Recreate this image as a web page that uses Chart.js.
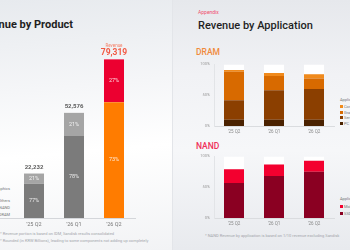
<!DOCTYPE html>
<html>
<head>
<meta charset="utf-8">
<script src="https://cdn.jsdelivr.net/npm/chart.js@4.4.1/dist/chart.umd.min.js"></script>
<style>
  html,body{margin:0;padding:0;}
  body{width:350px;height:250px;overflow:hidden;position:relative;font-family:Roboto,"Noto Sans",sans-serif;}
  #left{position:absolute;left:0;top:0;width:172px;height:250px;
    background:linear-gradient(175deg,#e7eaee 0%,#f5f6f8 35%,#ffffff 60%,#f2f3f5 100%);}
  #divider{position:absolute;left:172px;top:0;width:1px;height:250px;background:#e3e5e9;}
  #right{position:absolute;left:173px;top:0;width:177px;height:250px;
    background:linear-gradient(180deg,#e6e8ec 0%,#f1f2f5 30%,#f6f7f9 60%,#e8eaee 100%);}
  .abs{position:absolute;white-space:nowrap;}
  canvas{position:absolute;}
  .leg{position:absolute;font-size:4px;color:#777;white-space:nowrap;line-height:5px;}
  .leg i{display:inline-block;width:3px;height:3px;margin-right:1px;vertical-align:middle;}
</style>
</head>
<body>
<div id="left"></div>
<div id="divider"></div>
<div id="right"></div>

<div class="abs" style="right:277px;top:18px;font-size:11px;font-weight:700;color:#1f1f1f;">Revenue by Product</div>
<div class="abs" style="left:198px;top:9px;font-size:5px;color:#f0506e;">Appendix</div>
<div class="abs" style="left:198px;top:19px;font-size:11px;font-weight:500;color:#1f1f1f;">Revenue by Application</div>
<div class="abs" style="left:196px;top:47px;font-size:8.5px;font-weight:500;color:#f08a3c;">DRAM</div>
<div class="abs" style="left:196px;top:141px;font-size:8.5px;font-weight:500;color:#f0305a;">NAND</div>

<div class="leg" style="right:340px;top:186px;text-align:right;">Graphics</div>
<div class="leg" style="right:340px;top:198px;text-align:right;">Others</div>
<div class="leg" style="right:340px;top:205px;text-align:right;">NAND</div>
<div class="leg" style="right:340px;top:212px;text-align:right;">DRAM</div>

<div class="leg" style="left:0px;top:231px;color:#a3a6ab;">* Revenue portion is based on IDM, Sandisk results consolidated</div>
<div class="leg" style="left:0px;top:238px;color:#a3a6ab;">* Rounded (in KRW Billions), leading to some components not adding up completely</div>
<div class="leg" style="left:205px;top:233px;color:#a3a6ab;">* NAND Revenue by application is based on 1/10 revenue excluding Sandisk</div>

<div class="leg" style="left:340px;top:97px;">Application</div>
<div class="leg" style="left:340px;top:104px;"><i style="background:#f08a1c"></i>Consumer</div>
<div class="leg" style="left:340px;top:110px;"><i style="background:#d86a00"></i>Graphics</div>
<div class="leg" style="left:340px;top:115px;"><i style="background:#8b3f00"></i>Server</div>
<div class="leg" style="left:340px;top:121px;"><i style="background:#4a2200"></i>PC</div>

<div class="leg" style="left:340px;top:196px;">Application</div>
<div class="leg" style="left:340px;top:204px;"><i style="background:#f3002f"></i>Mobile</div>
<div class="leg" style="left:340px;top:211px;"><i style="background:#8a0022"></i>SSD &amp; others</div>

<canvas id="cLeft" width="172" height="250" style="left:0;top:0;width:172px;height:250px;"></canvas>
<canvas id="cDram" width="150" height="80" style="left:190px;top:58px;width:150px;height:80px;"></canvas>
<canvas id="cNand" width="150" height="80" style="left:190px;top:150px;width:150px;height:80px;"></canvas>

<script>
// ---------- data ----------
const quarters = ["'25 Q2", "'26 Q1", "'26 Q2"];

// Revenue by Product (KRW billions)
const productTotals = [22232, 52576, 79319];
const productLower = [17100, 41000, 57900];
const productUpper = [5132, 11576, 21419];
const productLowerPct = ["77%", "78%", "73%"];
const productUpperPct = ["21%", "21%", "27%"];

// DRAM revenue by application (%), bottom to top
const dramPC = [10, 10, 10];
const dramServer = [32, 48, 50];
const dramGraphics = [46, 23, 17];
const dramConsumer = [3, 5, 7];
const dramRest = [9, 14, 16];

// NAND revenue by application (%), bottom to top
const nandSSD = [57, 68, 75];
const nandMobile = [22, 19, 18];
const nandRest = [21, 13, 7];

const yPctTicks = [0, 50, 100];

// ---------- common ----------
Chart.defaults.font.family = 'Roboto, "Noto Sans", sans-serif';
Chart.defaults.animation = false;
Chart.defaults.responsive = false;
Chart.defaults.plugins.legend.display = false;
Chart.defaults.plugins.tooltip.enabled = false;

const grayDark = '#7b7b7b', grayLight = '#a5a5a5', orange = '#ff7c00', red = '#ec0030';

const productLabels = {
  id: 'productLabels',
  afterDatasetsDraw(chart) {
    const ctx = chart.ctx;
    ctx.save();
    ctx.textAlign = 'center';
    ctx.textBaseline = 'middle';
    const pcts = [productLowerPct, productUpperPct];
    chart.data.datasets.forEach((ds, di) => {
      chart.getDatasetMeta(di).data.forEach((bar, i) => {
        ctx.fillStyle = 'rgba(255,255,255,0.85)';
        ctx.font = '400 5.5px Roboto, "Noto Sans", sans-serif';
        ctx.fillText(pcts[di][i], bar.x, (bar.y + bar.base) / 2);
      });
    });
    const tops = chart.getDatasetMeta(1).data;
    tops.forEach((bar, i) => {
      const txt = productTotals[i].toLocaleString('en-US');
      if (i === tops.length - 1) {
        ctx.fillStyle = '#f25a44';
        ctx.font = '700 8.5px Roboto, "Noto Sans", sans-serif';
        ctx.fillText(txt, bar.x, bar.y - 6);
        ctx.fillStyle = '#f5826a';
        ctx.font = '400 4.5px Roboto, "Noto Sans", sans-serif';
        ctx.fillText('Revenue', bar.x, bar.y - 13.5);
      } else {
        ctx.fillStyle = '#5a5a5a';
        ctx.font = '700 6px Roboto, "Noto Sans", sans-serif';
        ctx.fillText(txt, bar.x, bar.y - 6);
      }
    });
    // baseline
    const y0 = chart.scales.y.getPixelForValue(0);
    ctx.strokeStyle = '#d4d6da';
    ctx.lineWidth = 1;
    ctx.beginPath();
    ctx.moveTo(0, y0 + 0.5);
    ctx.lineTo(chart.chartArea.right + 2, y0 + 0.5);
    ctx.stroke();
    ctx.restore();
  }
};

new Chart(document.getElementById('cLeft'), {
  type: 'bar',
  data: {
    labels: quarters,
    datasets: [
      { data: productLower, backgroundColor: [grayDark, grayDark, orange], barPercentage: 0.5, categoryPercentage: 1 },
      { data: productUpper, backgroundColor: [grayLight, grayLight, red], barPercentage: 0.5, categoryPercentage: 1 }
    ]
  },
  options: {
    layout: { padding: { left: 14, right: 38, top: 18, bottom: 0 } },
    scales: {
      x: {
        stacked: true,
        grid: { display: false, drawTicks: false },
        border: { display: false },
        ticks: { color: '#777', font: { size: 5.5 }, padding: 3 },
        afterFit(s) { s.height = 32; }
      },
      y: { stacked: true, display: false, min: 0, max: 100000 }
    }
  },
  plugins: [productLabels]
});

function pctChart(id, sets) {
  return new Chart(document.getElementById(id), {
    type: 'bar',
    data: {
      labels: quarters,
      datasets: sets.map(s => ({ data: s[0], backgroundColor: s[1], barPercentage: 0.5, categoryPercentage: 1 }))
    },
    options: {
      layout: { padding: { left: 0, right: 6, top: 6, bottom: 0 } },
      scales: {
        x: {
          stacked: true,
          grid: { display: false, drawTicks: false },
          border: { display: true, color: '#dadcdf' },
          ticks: { color: '#888', font: { size: 4.5 }, padding: 3 },
          afterFit(s) { s.height = 12; }
        },
        y: {
          stacked: true, min: 0, max: 100,
          afterBuildTicks(s) { s.ticks = yPctTicks.map(v => ({ value: v })); },
          grid: { display: false, drawTicks: false },
          border: { display: true, color: '#e2e4e7' },
          ticks: { color: '#999', font: { size: 4 }, padding: 4, callback: v => v + '%' },
          afterFit(s) { s.width = 24; }
        }
      }
    }
  });
}

pctChart('cDram', [
  [dramPC, '#4a2200'],
  [dramServer, '#8b3f00'],
  [dramGraphics, '#d86a00'],
  [dramConsumer, '#f08a1c'],
  [dramRest, '#ffffff']
]);

pctChart('cNand', [
  [nandSSD, '#8a0022'],
  [nandMobile, '#f3002f'],
  [nandRest, '#ffffff']
]);
</script>
</body>
</html>
